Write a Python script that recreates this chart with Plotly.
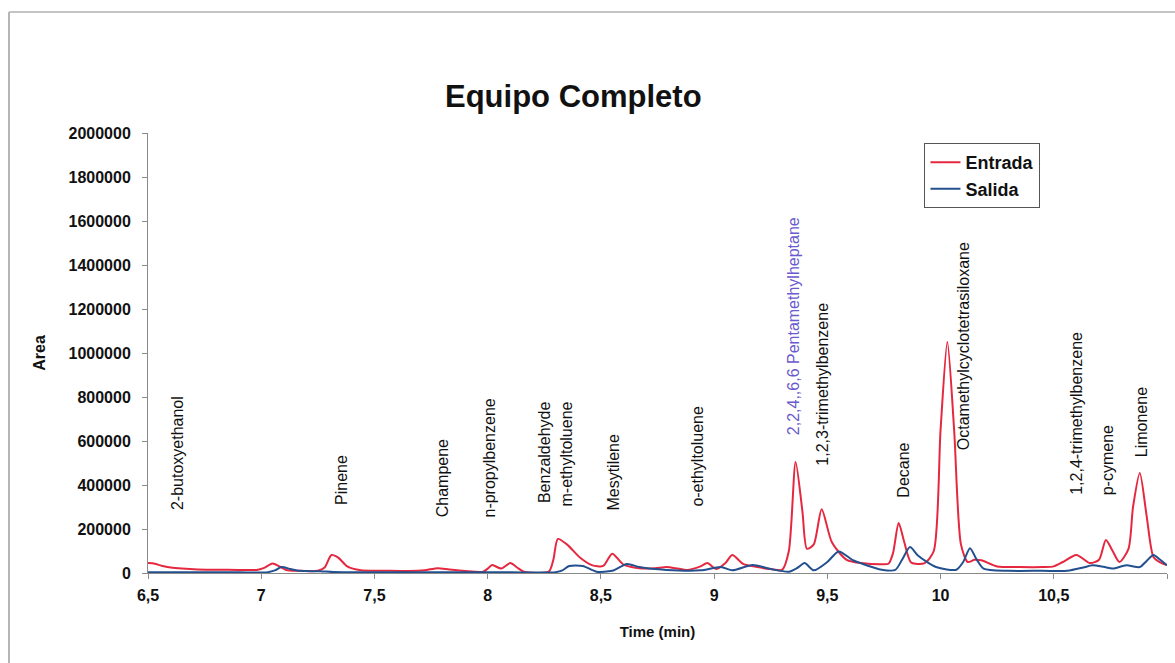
import plotly.graph_objects as go

# Chromatogram traces: retention time (min) vs. detector area
entrada_t = [6.50, 6.53, 6.56, 6.60, 6.65, 6.72, 6.80, 6.90, 6.98, 7.01, 7.05, 7.08, 7.11, 7.16,
             7.25, 7.28, 7.31, 7.34, 7.38, 7.44, 7.55, 7.65, 7.72, 7.78, 7.83, 7.90, 7.98, 8.00,
             8.02, 8.06, 8.10, 8.13, 8.16, 8.27, 8.29, 8.31, 8.35, 8.41, 8.46, 8.51, 8.55, 8.60,
             8.67, 8.74, 8.79, 8.84, 8.88, 8.94, 8.97, 9.01, 9.05, 9.08, 9.13, 9.19, 9.25, 9.30,
             9.33, 9.36, 9.39, 9.41, 9.44, 9.475, 9.52, 9.585, 9.66, 9.73, 9.77, 9.79, 9.815,
             9.84, 9.87, 9.93, 9.97, 10.00, 10.03, 10.06, 10.09, 10.12, 10.15, 10.18, 10.25,
             10.35, 10.45, 10.50, 10.54, 10.60, 10.66, 10.70, 10.73, 10.76, 10.79, 10.83, 10.85,
             10.88, 10.91, 10.94, 10.97, 11.00]
entrada_v = [45000, 42000, 33000, 25000, 20000, 16000, 15000, 14000, 14000, 22000, 43000, 30000,
             14000, 10000, 10000, 25000, 82000, 70000, 30000, 12000, 10000, 9000, 12000, 22000,
             16000, 9000, 6000, 20000, 36000, 20000, 45000, 25000, 6000, 6000, 60000, 155000,
             130000, 68000, 36000, 32000, 88000, 38000, 22000, 22000, 27000, 20000, 14000, 30000,
             45000, 18000, 45000, 82000, 40000, 27000, 18000, 14000, 100000, 505000, 280000,
             110000, 130000, 290000, 140000, 60000, 44000, 40000, 42000, 90000, 227000, 140000,
             48000, 45000, 100000, 650000, 1050000, 650000, 130000, 50000, 60000, 58000, 30000,
             27000, 27000, 30000, 50000, 82000, 45000, 60000, 150000, 100000, 50000, 110000,
             300000, 455000, 260000, 73000, 48000, 36000]

salida_t = [6.50, 6.70, 6.90, 7.03, 7.06, 7.09, 7.13, 7.17, 7.26, 7.32, 7.60, 7.90, 8.10, 8.30,
            8.33, 8.36, 8.42, 8.48, 8.55, 8.615, 8.67, 8.79, 8.94, 9.03, 9.08, 9.17, 9.25, 9.33,
            9.37, 9.40, 9.44, 9.50, 9.55, 9.61, 9.66, 9.74, 9.80, 9.83, 9.865, 9.90, 9.98,
            10.07, 10.10, 10.13, 10.16, 10.19, 10.30, 10.45, 10.56, 10.63, 10.67, 10.72, 10.76,
            10.82, 10.88, 10.91, 10.94, 10.97, 11.00]
salida_v = [3000, 3000, 3000, 4000, 12000, 27000, 18000, 10000, 8000, 4000, 3000, 3000, 3000, 4000,
            12000, 32000, 32000, 6000, 10000, 41000, 27000, 14000, 12000, 27000, 12000, 36000,
            18000, 6000, 25000, 45000, 12000, 50000, 98000, 60000, 40000, 15000, 14000, 60000,
            118000, 80000, 27000, 15000, 50000, 113000, 60000, 20000, 10000, 10000, 10000, 25000,
            35000, 28000, 20000, 35000, 27000, 55000, 82000, 60000, 35000]

# Peak identifications (label time and the height where each label starts)
compounds = ["2-butoxyethanol", "Pinene", "Champene", "n-propylbenzene", "Benzaldehyde",
             "m-ethyltoluene", "Mesytilene", "o-ethyltoluene", "2,2,4,,6,6 Pentamethylheptane",
             "1,2,3-trimethylbenzene", "Decane", "Octamethylcyclotetrasiloxane",
             "1,2,4-trimethylbenzene", "p-cymene", "Limonene"]
compound_t = [6.628, 7.352, 7.799, 8.006, 8.249, 8.346, 8.554, 8.925, 9.349, 9.477, 9.835,
              10.10, 10.599, 10.736, 10.886]
compound_y = [277000, 300000, 245000, 241000, 309000, 291000, 273000, 291000, 618000, 477000,
              332000, 550000, 345000, 345000, 518000]
compound_color = ["#111111"] * 8 + ["#6a5acd"] + ["#111111"] * 6

x_ticks = [6.5, 7, 7.5, 8, 8.5, 9, 9.5, 10, 10.5, 11]
x_tick_text = ["6,5", "7", "7,5", "8", "8,5", "9", "9,5", "10", "10,5", "11"]

FONT = "Liberation Sans, Arial, sans-serif"
AXIS_GRAY = "#8a8a8a"

fig = go.Figure()
fig.add_trace(go.Scatter(x=entrada_t, y=entrada_v, name="Entrada", mode="lines",
                         line=dict(color="#e5283f", width=2, shape="spline", smoothing=0.7)))
fig.add_trace(go.Scatter(x=salida_t, y=salida_v, name="Salida", mode="lines",
                         line=dict(color="#23508f", width=2, shape="spline", smoothing=0.7)))

annotations = []
for name, t, y, c in zip(compounds, compound_t, compound_y, compound_color):
    annotations.append(dict(x=t, y=y, xref="x", yref="y", text=name, textangle=-90,
                            showarrow=False, xanchor="center", yanchor="bottom",
                            font=dict(family=FONT, size=16, color=c)))

annotations.append(dict(x=0.418, y=1.082, xref="paper", yref="paper", text="<b>Equipo Completo</b>",
                        showarrow=False, xanchor="center", yanchor="middle",
                        font=dict(family=FONT, size=31, color="#111111")))

fig.update_layout(
    width=1175, height=663,
    margin=dict(l=148, r=8, t=133, b=90),
    paper_bgcolor="white", plot_bgcolor="white",
    font=dict(family=FONT, color="#111111"),
    showlegend=True,
    legend=dict(x=0.762, y=0.977, xanchor="left", yanchor="top",
                bordercolor="#555555", borderwidth=1, bgcolor="white",
                font=dict(family=FONT, size=18, color="#111111", weight="bold"),
                itemwidth=30),
    annotations=annotations,
    shapes=[
        dict(type="line", xref="paper", yref="paper", x0=-0.1364, x1=-0.1364, y0=1.275, y1=-0.21,
             line=dict(color="#b5b5b5", width=2)),
        dict(type="line", xref="paper", yref="paper", x0=-0.1364, x1=1.01, y0=1.275, y1=1.275,
             line=dict(color="#c4c4c4", width=2)),
    ],
)

fig.update_xaxes(range=[6.5, 11], tickvals=x_ticks, ticktext=x_tick_text,
                 showgrid=False, zeroline=False, showline=True, linecolor=AXIS_GRAY, linewidth=1,
                 ticks="outside", ticklen=5, tickcolor=AXIS_GRAY, ticklabelstandoff=3,
                 tickfont=dict(family=FONT, size=16, weight="bold"),
                 title=dict(text="<b>Time (min)</b>", font=dict(family=FONT, size=15), standoff=23))
fig.update_yaxes(range=[0, 2000000], dtick=200000, tickformat="d",
                 showgrid=False, zeroline=False, showline=True, linecolor=AXIS_GRAY, linewidth=1,
                 ticks="outside", ticklen=5, tickcolor=AXIS_GRAY, ticklabelstandoff=8,
                 tickfont=dict(family=FONT, size=16, weight="bold"),
                 title=dict(text="<b>Area</b>", font=dict(family=FONT, size=16), standoff=18))

fig.write_html("out.html")
